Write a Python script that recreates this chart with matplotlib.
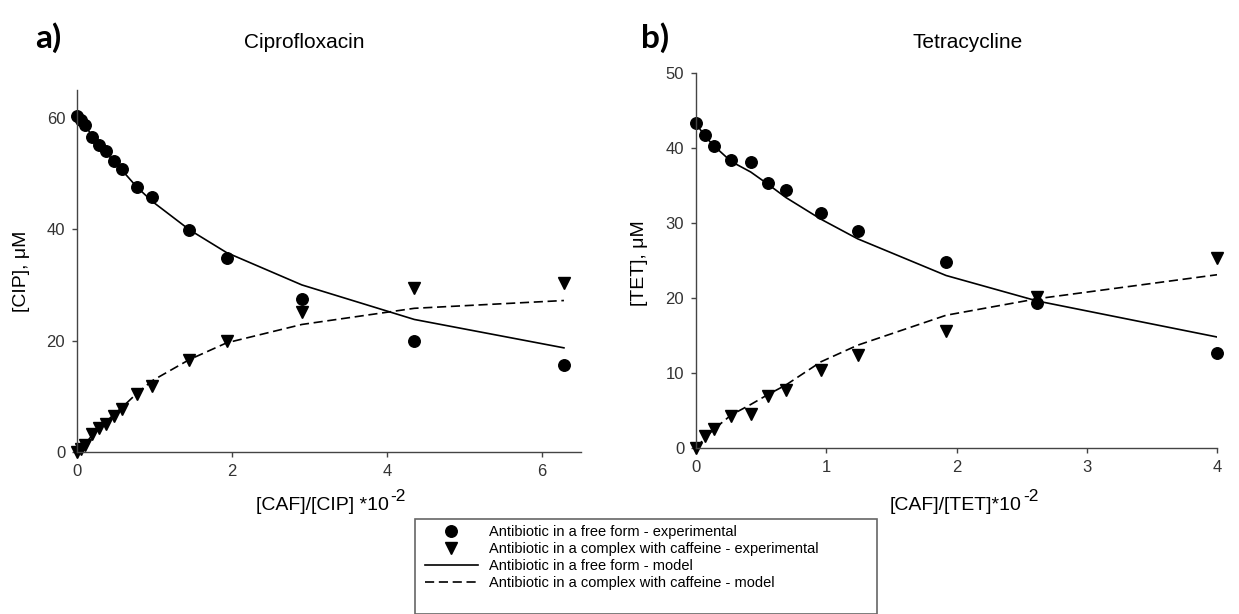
import matplotlib
matplotlib.use("Agg")
import matplotlib.pyplot as plt
from matplotlib.lines import Line2D
from matplotlib.patches import Rectangle

# panel a) ciprofloxacin
cip_x = [0, 0.05, 0.10, 0.19, 0.29, 0.38, 0.48, 0.58, 0.77, 0.97, 1.45, 1.93, 2.9, 4.35, 6.28]
cip_free = [60.4, 59.6, 58.8, 56.6, 55.1, 54.0, 52.2, 50.8, 47.6, 45.7, 39.8, 34.9, 27.4, 19.9, 15.6]
cip_cplx = [0, 0.6, 1.2, 3.2, 4.3, 5.1, 6.5, 7.8, 10.5, 11.9, 16.5, 20.0, 25.2, 29.5, 30.3]
cip_free_model = [60.5, 59.6, 58.7, 56.9, 55.2, 53.7, 52.1, 50.6, 47.6, 45.0, 39.9, 35.8, 30.0, 23.8, 18.7]
cip_cplx_model = [0, 0.7, 1.4, 2.9, 4.3, 5.5, 6.8, 8.0, 10.5, 12.8, 16.6, 19.6, 22.9, 25.8, 27.2]

# panel b) tetracycline
tet_x = [0, 0.067, 0.137, 0.27, 0.42, 0.55, 0.69, 0.96, 1.24, 1.92, 2.62, 4.0]
tet_free = [43.3, 41.7, 40.3, 38.4, 38.1, 35.4, 34.4, 31.4, 29.0, 24.8, 19.4, 12.7]
tet_cplx = [0, 1.6, 2.6, 4.3, 4.6, 7.0, 7.7, 10.4, 12.4, 15.6, 20.1, 25.3]
tet_free_model = [43.3, 41.6, 40.3, 38.2, 36.8, 35.2, 33.4, 30.5, 27.9, 23.0, 19.6, 14.8]
tet_cplx_model = [0, 1.3, 2.5, 4.4, 5.8, 7.1, 8.4, 11.5, 13.7, 17.7, 19.9, 23.1]

legend_labels = ["Antibiotic in a free form - experimental",
                 "Antibiotic in a complex with caffeine - experimental",
                 "Antibiotic in a free form - model",
                 "Antibiotic in a complex with caffeine - model"]

plt.rcParams['font.family'] = ['Liberation Sans', 'DejaVu Sans']
W, H = 1239, 614
fig = plt.figure(figsize=(W / 100, H / 100), dpi=100)
DASH = (0, (5.5, 2.8))
MS = 8.3


def panel(rect, x, free, cplx, free_m, cplx_m, xlim, ylim, xticks, yticks):
    ax = fig.add_axes(rect)
    ax.plot(x, free_m, color='black', lw=1.2)
    ax.plot(x, cplx_m, color='black', lw=1.2, ls=DASH)
    ax.plot(x, free, 'o', color='black', ms=MS, clip_on=False)
    ax.plot(x, cplx, 'v', color='black', ms=MS, clip_on=False)
    ax.set_xlim(*xlim)
    ax.set_ylim(*ylim)
    ax.set_xticks(xticks)
    ax.set_yticks(yticks)
    for s in ['top', 'right']:
        ax.spines[s].set_visible(False)
    for s in ['left', 'bottom']:
        ax.spines[s].set_color('#444444')
        ax.spines[s].set_linewidth(1.0)
    ax.tick_params(direction='out', length=3.5, width=1, color='#444444',
                   labelsize=12, labelcolor='#333333', pad=5)
    return ax


def px(x0, y0, x1, y1):
    return [x0 / W, 1 - y1 / H, (x1 - x0) / W, (y1 - y0) / H]


axa = panel(px(77, 90, 581, 452), cip_x, cip_free, cip_cplx, cip_free_model, cip_cplx_model,
            (0, 6.5), (0, 65), [0, 2, 4, 6], [0, 20, 40, 60])
axb = panel(px(696, 73, 1217, 448), tet_x, tet_free, tet_cplx, tet_free_model, tet_cplx_model,
            (0, 4), (0, 50), [0, 1, 2, 3, 4], [0, 10, 20, 30, 40, 50])

# titles, panel letters, axis labels
fig.text(304 / W, 1 - 42 / H, "Ciprofloxacin", ha='center', va='center', fontsize=15)
fig.text(968 / W, 1 - 42 / H, "Tetracycline", ha='center', va='center', fontsize=15)
fig.text(35 / W, 1 - 38 / H, "a)", ha='left', va='center', fontsize=24, fontweight='bold', family='Lato')
fig.text(641 / W, 1 - 38 / H, "b)", ha='left', va='center', fontsize=24, fontweight='bold', family='Lato')

# x labels with a plain hyphen exponent
for xc, s in [(322, "[CAF]/[CIP] *10"), (956, "[CAF]/[TET]*10")]:
    t = fig.text(xc / W, 1 - 505 / H, s, ha='center', va='center', fontsize=14)
    plt.annotate("-2", xy=(1, 0.55), xycoords=t, xytext=(1, 0), textcoords='offset points',
                 ha='left', va='bottom', fontsize=12.5, annotation_clip=False)

fig.text(22 / W, 1 - 271 / H, "[CIP], \u03bcM", ha='center', va='center', rotation=90, fontsize=14)
fig.text(640 / W, 1 - 263 / H, "[TET], \u03bcM", ha='center', va='center', rotation=90, fontsize=14)

# legend box below the panels
fig.patches.append(Rectangle((415 / W, 0), (877 - 415) / W, 1 - 519 / H, transform=fig.transFigure,
                             fill=False, edgecolor='#666666', lw=1.2))
handles = [Line2D([], [], ls='none', marker='o', color='black', ms=MS),
           Line2D([], [], ls='none', marker='v', color='black', ms=MS),
           Line2D([], [], color='black', lw=1.2),
           Line2D([], [], color='black', lw=1.2, ls=DASH)]
fig.legend(handles, legend_labels, loc='upper left', bbox_to_anchor=(425 / W, 1 - 525 / H),
           frameon=False, fontsize=10.5, handlelength=3.6, handletextpad=0.8,
           labelspacing=0.2, borderpad=0, borderaxespad=0)

fig.savefig("out.png", dpi=100)
